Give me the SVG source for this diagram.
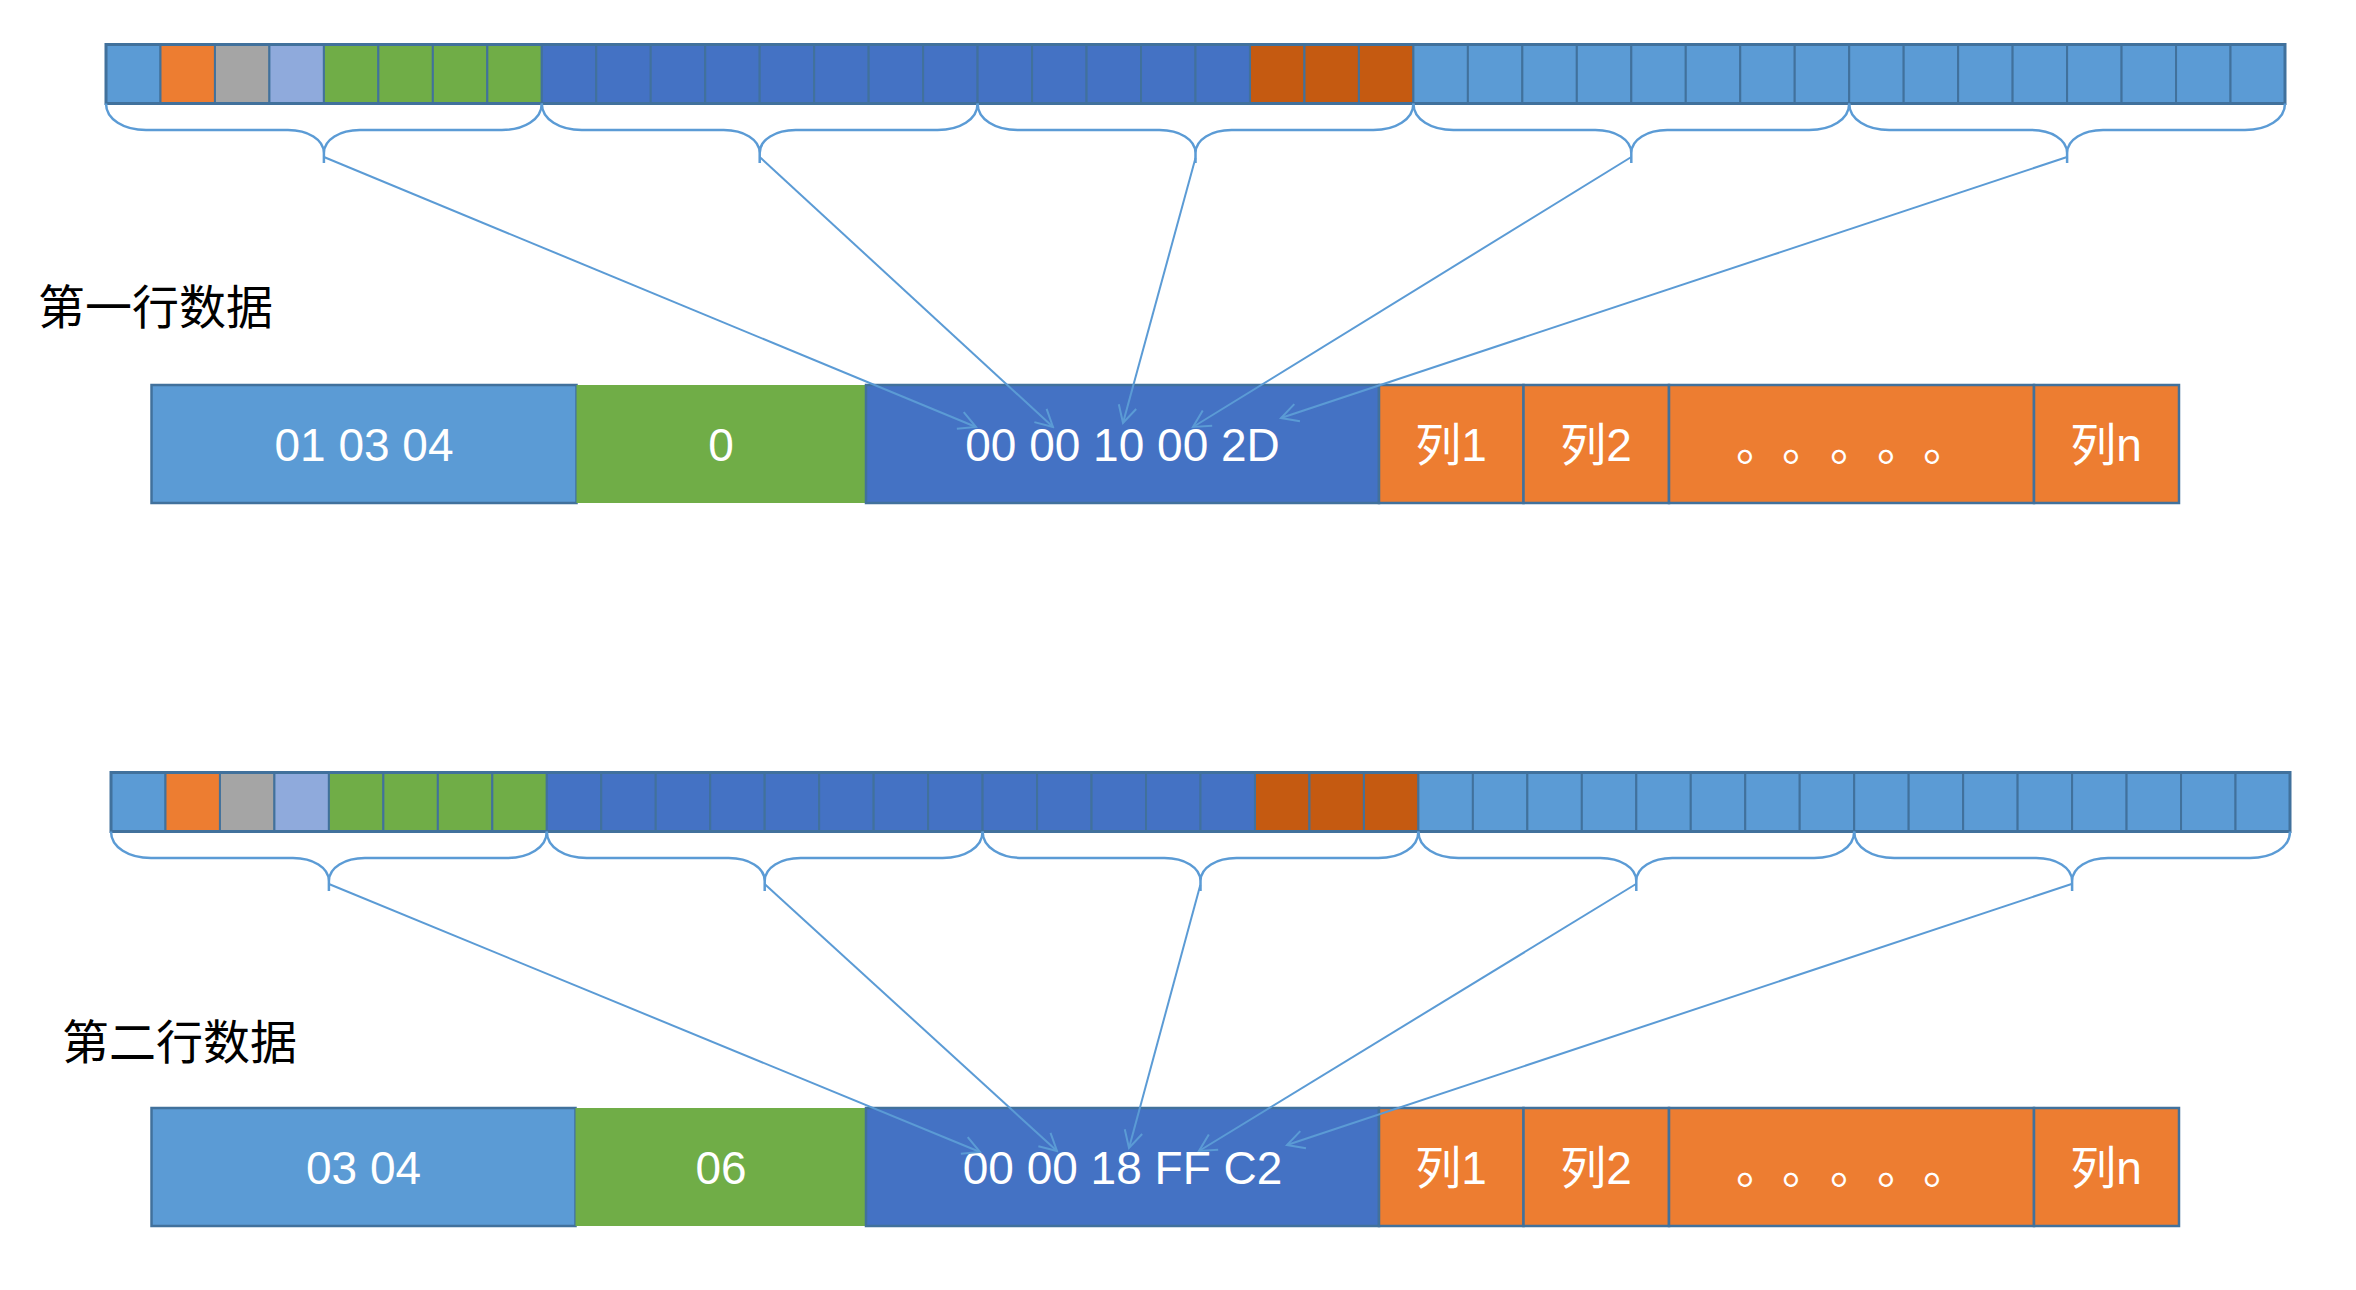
<svg xmlns="http://www.w3.org/2000/svg" xmlns:xlink="http://www.w3.org/1999/xlink" width="2356" height="1290" viewBox="0 0 2356 1290">
<style>
.c{stroke:#41719C;stroke-width:2}
.b{fill:#5B9BD5}.o{fill:#ED7D31}.g{fill:#A5A5A5}.l{fill:#8FAADC}.gr{fill:#70AD47}.d{fill:#4472C4}.do{fill:#C55A11}
.frame{fill:none;stroke:#41719C;stroke-width:3}
.brace{fill:none;stroke:#5B9BD5;stroke-width:2.5}
.cell{stroke:#41719C;stroke-width:2.5}
.t{font-family:"Liberation Sans","Noto Sans CJK SC",sans-serif;font-size:46px;fill:#FFFFFF;text-anchor:middle}
.dots{font-family:"Liberation Sans","Noto Sans CJK SC",sans-serif;font-size:46px;fill:#FFFFFF;text-anchor:start}
.lab{font-family:"Noto Sans CJK SC",sans-serif;font-size:47px;fill:#000000}
.arr{fill:none;stroke:#5B9BD5;stroke-width:2}
</style>
<defs>
<marker id="ah" viewBox="-20 -11 22 22" refX="0" refY="0" markerWidth="22" markerHeight="22" markerUnits="userSpaceOnUse" orient="auto">
<path d="M -17 -9 L 0 0 L -17 9" fill="none" stroke="#5B9BD5" stroke-width="2"/>
</marker>
<g id="strip">
<rect class="c b" x="0" y="0" width="54.475" height="59"/>
<rect class="c o" x="54.475" y="0" width="54.475" height="59"/>
<rect class="c g" x="108.95" y="0" width="54.475" height="59"/>
<rect class="c l" x="163.425" y="0" width="54.475" height="59"/>
<rect class="c gr" x="217.9" y="0" width="54.475" height="59"/>
<rect class="c gr" x="272.375" y="0" width="54.475" height="59"/>
<rect class="c gr" x="326.85" y="0" width="54.475" height="59"/>
<rect class="c gr" x="381.325" y="0" width="54.475" height="59"/>
<rect class="c d" x="435.8" y="0" width="54.475" height="59"/>
<rect class="c d" x="490.275" y="0" width="54.475" height="59"/>
<rect class="c d" x="544.75" y="0" width="54.475" height="59"/>
<rect class="c d" x="599.225" y="0" width="54.475" height="59"/>
<rect class="c d" x="653.7" y="0" width="54.475" height="59"/>
<rect class="c d" x="708.175" y="0" width="54.475" height="59"/>
<rect class="c d" x="762.65" y="0" width="54.475" height="59"/>
<rect class="c d" x="817.125" y="0" width="54.475" height="59"/>
<rect class="c d" x="871.6" y="0" width="54.475" height="59"/>
<rect class="c d" x="926.075" y="0" width="54.475" height="59"/>
<rect class="c d" x="980.55" y="0" width="54.475" height="59"/>
<rect class="c d" x="1035.025" y="0" width="54.475" height="59"/>
<rect class="c d" x="1089.5" y="0" width="54.475" height="59"/>
<rect class="c do" x="1143.975" y="0" width="54.475" height="59"/>
<rect class="c do" x="1198.45" y="0" width="54.475" height="59"/>
<rect class="c do" x="1252.925" y="0" width="54.475" height="59"/>
<rect class="c b" x="1307.4" y="0" width="54.475" height="59"/>
<rect class="c b" x="1361.875" y="0" width="54.475" height="59"/>
<rect class="c b" x="1416.35" y="0" width="54.475" height="59"/>
<rect class="c b" x="1470.825" y="0" width="54.475" height="59"/>
<rect class="c b" x="1525.3" y="0" width="54.475" height="59"/>
<rect class="c b" x="1579.775" y="0" width="54.475" height="59"/>
<rect class="c b" x="1634.25" y="0" width="54.475" height="59"/>
<rect class="c b" x="1688.725" y="0" width="54.475" height="59"/>
<rect class="c b" x="1743.2" y="0" width="54.475" height="59"/>
<rect class="c b" x="1797.675" y="0" width="54.475" height="59"/>
<rect class="c b" x="1852.15" y="0" width="54.475" height="59"/>
<rect class="c b" x="1906.625" y="0" width="54.475" height="59"/>
<rect class="c b" x="1961.1" y="0" width="54.475" height="59"/>
<rect class="c b" x="2015.575" y="0" width="54.475" height="59"/>
<rect class="c b" x="2070.05" y="0" width="54.475" height="59"/>
<rect class="c b" x="2124.525" y="0" width="54.475" height="59"/>
<rect class="frame" x="0" y="0" width="2179" height="59"/>
<path class="brace" d="M 0 59 C 0 75, 18 85.5, 40 85.5 L 181.9 85.5 C 201.9 85.5, 217.9 95, 217.9 108.5 L 217.9 118.5 M 217.9 108.5 C 217.9 95, 233.9 85.5, 253.9 85.5 L 395.8 85.5 C 417.8 85.5, 435.8 75, 435.8 59"/>
<path class="brace" d="M 435.8 59 C 435.8 75, 453.8 85.5, 475.8 85.5 L 617.7 85.5 C 637.7 85.5, 653.7 95, 653.7 108.5 L 653.7 118.5 M 653.7 108.5 C 653.7 95, 669.7 85.5, 689.7 85.5 L 831.6 85.5 C 853.6 85.5, 871.6 75, 871.6 59"/>
<path class="brace" d="M 871.6 59 C 871.6 75, 889.6 85.5, 911.6 85.5 L 1053.5 85.5 C 1073.5 85.5, 1089.5 95, 1089.5 108.5 L 1089.5 118.5 M 1089.5 108.5 C 1089.5 95, 1105.5 85.5, 1125.5 85.5 L 1267.4 85.5 C 1289.4 85.5, 1307.4 75, 1307.4 59"/>
<path class="brace" d="M 1307.4 59 C 1307.4 75, 1325.4 85.5, 1347.4 85.5 L 1489.3 85.5 C 1509.3 85.5, 1525.3 95, 1525.3 108.5 L 1525.3 118.5 M 1525.3 108.5 C 1525.3 95, 1541.3 85.5, 1561.3 85.5 L 1703.2 85.5 C 1725.2 85.5, 1743.2 75, 1743.2 59"/>
<path class="brace" d="M 1743.2 59 C 1743.2 75, 1761.2 85.5, 1783.2 85.5 L 1925.1 85.5 C 1945.1 85.5, 1961.1 95, 1961.1 108.5 L 1961.1 118.5 M 1961.1 108.5 C 1961.1 95, 1977.1 85.5, 1997.1 85.5 L 2139 85.5 C 2161 85.5, 2179 75, 2179 59"/>
</g>
</defs>

<g id="strip1" transform="translate(106,44.5)"><use xlink:href="#strip"/></g>
<g id="strip2" transform="translate(111,772.5)"><use xlink:href="#strip"/></g>

<g id="label1"><text class="lab" x="38" y="324">第一行数据</text></g>
<g id="label2"><text class="lab" x="62" y="1059">第二行数据</text></g>

<g id="row1">
<g id="r1-head"><rect class="cell b" x="151.5" y="385" width="425" height="118"/><text class="t" x="364" y="461">01 03 04</text></g>
<g id="r1-flag"><rect class="gr" x="576.5" y="385" width="289.5" height="118"/><text class="t" x="721" y="461">0</text></g>
<g id="r1-key"><rect class="cell d" x="866" y="385" width="513" height="118"/><text class="t" x="1122.5" y="461">00 00 10 00 2D</text></g>
<g id="r1-col1"><rect class="cell o" x="1379" y="385" width="144.5" height="118"/><text class="t" x="1451" y="461">列1</text></g>
<g id="r1-col2"><rect class="cell o" x="1523.5" y="385" width="145.5" height="118"/><text class="t" x="1596" y="461">列2</text></g>
<g id="r1-dots"><rect class="cell o" x="1669" y="385" width="365" height="118"/><text class="dots" x="1736 1782 1830 1877 1923" y="460">。。。。。</text></g>
<g id="r1-coln"><rect class="cell o" x="2034" y="385" width="145" height="118"/><text class="t" x="2106" y="461">列n</text></g>
</g>

<g id="row2">
<g id="r2-head"><rect class="cell b" x="151.5" y="1108" width="424" height="118"/><text class="t" x="363.5" y="1183.5">03 04</text></g>
<g id="r2-flag"><rect class="gr" x="575.5" y="1108" width="290.5" height="118"/><text class="t" x="721" y="1183.5">06</text></g>
<g id="r2-key"><rect class="cell d" x="866" y="1108" width="513" height="118"/><text class="t" x="1122.5" y="1183.5">00 00 18 FF C2</text></g>
<g id="r2-col1"><rect class="cell o" x="1379" y="1108" width="144.5" height="118"/><text class="t" x="1451" y="1183.5">列1</text></g>
<g id="r2-col2"><rect class="cell o" x="1523.5" y="1108" width="145.5" height="118"/><text class="t" x="1596" y="1183.5">列2</text></g>
<g id="r2-dots"><rect class="cell o" x="1669" y="1108" width="365" height="118"/><text class="dots" x="1736 1782 1830 1877 1923" y="1182.5">。。。。。</text></g>
<g id="r2-coln"><rect class="cell o" x="2034" y="1108" width="145" height="118"/><text class="t" x="2106" y="1183.5">列n</text></g>
</g>

<g id="connectors">
<line class="arr" x1="323.9" y1="157" x2="976" y2="427" marker-end="url(#ah)"/>
<line class="arr" x1="759.7" y1="157" x2="1053" y2="427" marker-end="url(#ah)"/>
<line class="arr" x1="1195.5" y1="158" x2="1123" y2="423" marker-end="url(#ah)"/>
<line class="arr" x1="1631.3" y1="157" x2="1193" y2="427" marker-end="url(#ah)"/>
<line class="arr" x1="2067.1" y1="157" x2="1281" y2="418" marker-end="url(#ah)"/>
<line class="arr" x1="328.9" y1="884" x2="980" y2="1152" marker-end="url(#ah)"/>
<line class="arr" x1="764.6" y1="884" x2="1057" y2="1151" marker-end="url(#ah)"/>
<line class="arr" x1="1200.3" y1="885" x2="1129" y2="1148" marker-end="url(#ah)"/>
<line class="arr" x1="1636" y1="884" x2="1199" y2="1151" marker-end="url(#ah)"/>
<line class="arr" x1="2071.6" y1="884" x2="1287" y2="1145" marker-end="url(#ah)"/>
</g>
</svg>
